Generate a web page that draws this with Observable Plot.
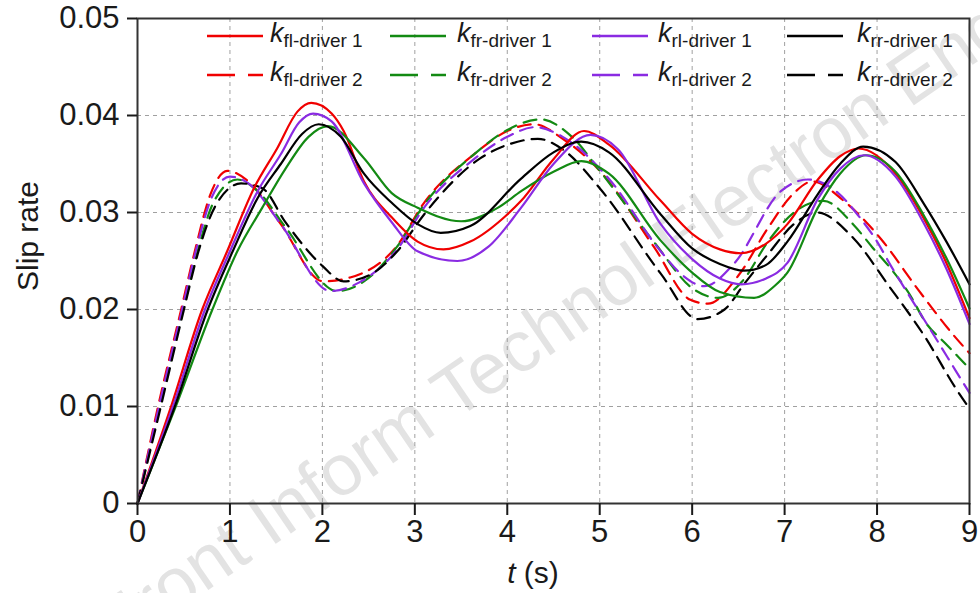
<!DOCTYPE html>
<html>
<head>
<meta charset="utf-8">
<script src="https://cdn.jsdelivr.net/npm/d3@7"></script>
<script src="https://cdn.jsdelivr.net/npm/@observablehq/plot@0.6"></script>
<style>
  html, body { margin: 0; padding: 0; background: #fff; }
  #chart { position: relative; width: 980px; height: 593px; overflow: hidden; }
</style>
</head>
<body>
<div id="chart"></div>
<script>
// ---- Data ----
const xTicks = [0, 1, 2, 3, 4, 5, 6, 7, 8, 9];
const yTicks = [0, 0.01, 0.02, 0.03, 0.04, 0.05];

// k fl - driver 1 (red solid)
const fl1_t = [0, 0.36, 0.70, 0.97, 1.26, 1.51, 1.73, 1.88, 2.1, 2.23, 2.45, 2.75, 3.03, 3.31, 3.6, 4.0, 4.15, 4.5, 4.83, 5.1, 5.66, 6.0, 6.3, 6.53, 6.8, 7.03, 7.36, 7.6, 7.8, 8.2, 8.5, 8.75, 9];
const fl1_v = [0, 0.0099, 0.020, 0.026, 0.0325, 0.0366, 0.0404, 0.0413, 0.0402, 0.0384, 0.0332, 0.0295, 0.0270, 0.0262, 0.0270, 0.0298, 0.0312, 0.0355, 0.0384, 0.0370, 0.0312, 0.0278, 0.0262, 0.0258, 0.0268, 0.0288, 0.0334, 0.0358, 0.0366, 0.0340, 0.0295, 0.0248, 0.0191];
// k fr - driver 1 (green solid)
const fr1_t = [0, 0.41, 0.81, 1.08, 1.35, 1.6, 1.85, 2.06, 2.45, 2.75, 3.03, 3.5, 3.9, 4.15, 4.5, 4.8, 5.1, 5.66, 6.0, 6.3, 6.67, 6.9, 7.03, 7.36, 7.6, 7.88, 8.2, 8.5, 8.75, 9];
const fr1_v = [0, 0.0099, 0.020, 0.026, 0.0305, 0.0345, 0.0378, 0.0389, 0.0356, 0.0320, 0.0305, 0.0291, 0.0305, 0.0322, 0.0342, 0.0353, 0.0340, 0.0271, 0.0238, 0.0218, 0.0212, 0.0225, 0.0238, 0.0305, 0.0340, 0.0359, 0.0342, 0.0298, 0.0253, 0.0201];
// k rl - driver 1 (purple solid)
const rl1_t = [0, 0.38, 0.73, 1.0, 1.3, 1.55, 1.75, 1.9, 2.1, 2.45, 2.75, 3.03, 3.46, 3.8, 4.15, 4.5, 4.9, 5.2, 5.66, 6.0, 6.3, 6.53, 6.8, 7.03, 7.36, 7.6, 7.86, 8.2, 8.5, 8.75, 9];
const rl1_v = [0, 0.0099, 0.020, 0.026, 0.0322, 0.0360, 0.0393, 0.0402, 0.0394, 0.0330, 0.0290, 0.0260, 0.0250, 0.0265, 0.0305, 0.0350, 0.0380, 0.0365, 0.0288, 0.0252, 0.0232, 0.0226, 0.0232, 0.0248, 0.0314, 0.0345, 0.0359, 0.0337, 0.0290, 0.0242, 0.0185];
// k rr - driver 1 (black solid)
const rr1_t = [0, 0.40, 0.76, 1.03, 1.3, 1.55, 1.78, 1.96, 2.2, 2.45, 2.75, 3.03, 3.28, 3.6, 4.15, 4.5, 4.8, 5.1, 5.66, 6.0, 6.3, 6.56, 6.8, 7.03, 7.36, 7.6, 7.85, 8.2, 8.5, 8.75, 9];
const rr1_v = [0, 0.0099, 0.020, 0.026, 0.0315, 0.0350, 0.0381, 0.0391, 0.0378, 0.0340, 0.0310, 0.0288, 0.0279, 0.0286, 0.0335, 0.0362, 0.0373, 0.0362, 0.0298, 0.0263, 0.0247, 0.0240, 0.0246, 0.0270, 0.0319, 0.0350, 0.0368, 0.0352, 0.0310, 0.0270, 0.0226];

// k fl - driver 2 (red dashed)
const fl2_t = [0, 0.22, 0.47, 0.62, 0.79, 0.97, 1.2, 1.55, 2.01, 2.3, 2.81, 3.1, 3.64, 4.0, 4.29, 4.6, 5.0, 5.59, 5.98, 6.17, 6.5, 6.82, 7.1, 7.3, 7.64, 8.04, 8.44, 8.85, 9];
const fl2_v = [0, 0.0099, 0.0199, 0.026, 0.0319, 0.0343, 0.0332, 0.0288, 0.0229, 0.0233, 0.0266, 0.0310, 0.0360, 0.0384, 0.0391, 0.0376, 0.0343, 0.0264, 0.0210, 0.0206, 0.0235, 0.0284, 0.0320, 0.0332, 0.0312, 0.0273, 0.0221, 0.0171, 0.0155];
// k fr - driver 2 (green dashed)
const fr2_t = [0, 0.24, 0.49, 0.65, 0.82, 1.08, 1.3, 1.6, 2.16, 2.45, 2.81, 3.1, 3.64, 4.0, 4.36, 4.7, 5.0, 5.6, 6.0, 6.28, 6.55, 6.82, 7.1, 7.42, 7.74, 7.95, 8.15, 8.35, 8.53, 8.74, 9];
const fr2_v = [0, 0.0099, 0.0199, 0.026, 0.0310, 0.0334, 0.0322, 0.0285, 0.0219, 0.0229, 0.0265, 0.0308, 0.0360, 0.0385, 0.0396, 0.0378, 0.0343, 0.0268, 0.0222, 0.0212, 0.0230, 0.0270, 0.0300, 0.0312, 0.0288, 0.0264, 0.0242, 0.0216, 0.0186, 0.0165, 0.0139];
// k rl - driver 2 (purple dashed)
const rl2_t = [0, 0.23, 0.48, 0.63, 0.80, 1.0, 1.2, 1.55, 2.09, 2.4, 2.81, 3.1, 3.64, 4.0, 4.3, 4.6, 5.08, 5.66, 5.9, 6.13, 6.45, 6.96, 7.25, 7.58, 7.82, 8.0, 8.15, 8.33, 8.5, 8.67, 8.85, 9];
const rl2_v = [0, 0.0099, 0.0199, 0.026, 0.0315, 0.0337, 0.0330, 0.0288, 0.0219, 0.0228, 0.0262, 0.0305, 0.0355, 0.0378, 0.0388, 0.0378, 0.0337, 0.0260, 0.0235, 0.0224, 0.0247, 0.0322, 0.0334, 0.0320, 0.0294, 0.0270, 0.0245, 0.0217, 0.0191, 0.0165, 0.0137, 0.0114];
// k rr - driver 2 (black dashed)
const rr2_t = [0, 0.25, 0.50, 0.66, 0.85, 1.12, 1.35, 1.6, 2.0, 2.23, 2.5, 2.81, 3.1, 3.71, 4.04, 4.33, 4.6, 5.0, 5.66, 6.06, 6.35, 6.56, 6.82, 7.1, 7.35, 7.74, 8.13, 8.51, 8.87, 9];
const rr2_v = [0, 0.0099, 0.0199, 0.026, 0.0308, 0.0330, 0.0325, 0.0290, 0.0245, 0.0229, 0.0235, 0.0260, 0.0298, 0.0356, 0.0371, 0.0376, 0.0365, 0.0325, 0.0237, 0.0190, 0.0200, 0.0226, 0.0257, 0.0288, 0.0300, 0.0274, 0.0224, 0.0173, 0.0116, 0.0098];

const seriesKeys = ["fl", "fr", "rl", "rr"];
const seriesColors = ["#f00000", "#138a13", "#8a2be2", "#000000"];

// ---- Build table ----
const series = [
  {key: "fl", driver: 1, t: fl1_t, v: fl1_v},
  {key: "fr", driver: 1, t: fr1_t, v: fr1_v},
  {key: "rl", driver: 1, t: rl1_t, v: rl1_v},
  {key: "rr", driver: 1, t: rr1_t, v: rr1_v},
  {key: "fl", driver: 2, t: fl2_t, v: fl2_v},
  {key: "fr", driver: 2, t: fr2_t, v: fr2_v},
  {key: "rl", driver: 2, t: rl2_t, v: rl2_v},
  {key: "rr", driver: 2, t: rr2_t, v: rr2_v}
];
const colorOf = k => seriesColors[seriesKeys.indexOf(k)];
const DASH = "13,8";

const lineMarks = [];
// dashed first, solid on top
for (const s of [...series].sort((a, b) => b.driver - a.driver)) {
  const rows = s.t.map((t, i) => ({t, v: s.v[i]}));
  lineMarks.push(Plot.line(rows, {
    x: "t", y: "v",
    stroke: colorOf(s.key),
    strokeWidth: 2.2,
    strokeDasharray: s.driver === 2 ? DASH : null,
    curve: "monotone-x"
  }));
}

const plot = Plot.plot({
  width: 980,
  height: 593,
  marginLeft: 137,
  marginRight: 11,
  marginTop: 18,
  marginBottom: 90,
  style: {fontFamily: "'Liberation Sans', Arial, sans-serif", fontSize: "31px", color: "#1a1a1a", background: "#fff"},
  x: {domain: [0, 9]},
  y: {domain: [0, 0.05]},
  marks: [
    Plot.gridX(xTicks.slice(1, -1), {stroke: "#a0a0a0", strokeOpacity: 1, strokeDasharray: "4,4", strokeWidth: 1}),
    Plot.gridY(yTicks.slice(1, -1), {stroke: "#a0a0a0", strokeOpacity: 1, strokeDasharray: "4,4", strokeWidth: 1}),
    ...lineMarks,
    Plot.frame({stroke: "#333", strokeWidth: 2}),
    Plot.axisX({ticks: xTicks, tickSize: 12, tickPadding: 4, strokeWidth: 2, fontSize: 31, label: null}),
    Plot.axisY({ticks: yTicks, tickSize: 10, tickPadding: 8, strokeWidth: 2, fontSize: 31, label: null,
      tickFormat: d => d === 0 ? "0" : d.toFixed(2)})
  ]
});

document.getElementById("chart").appendChild(plot);

// ---- Extra text: axis titles, legend, watermark ----
const svg = d3.select(plot);

// watermark (behind everything, partly off the page as in the reference)
svg.insert("text", "g")
  .attr("transform", "translate(565,345) rotate(-34.5)")
  .attr("text-anchor", "middle")
  .attr("font-size", 72)
  .attr("fill", "#e3e3e3")
  .text("Front Inform Technol Electron Eng");

// x label
const xl = svg.append("text")
  .attr("x", 533).attr("y", 583)
  .attr("text-anchor", "middle")
  .attr("font-size", 30)
  .attr("fill", "#1a1a1a");
xl.append("tspan").attr("font-style", "italic").text("t");
xl.append("tspan").text(" (s)");

// y label
svg.append("text")
  .attr("transform", "translate(38,236) rotate(-90)")
  .attr("text-anchor", "middle")
  .attr("font-size", 30)
  .attr("fill", "#1a1a1a")
  .text("Slip rate");

// legend
const legLineX = [207, 390, 592, 787];
const legTextX = [270, 457, 658, 857];
const legRowY = [36, 75];
const leg = svg.append("g").attr("text-anchor", "start");
[1, 2].forEach((drv, r) => {
  seriesKeys.forEach((k, c) => {
    leg.append("line")
      .attr("x1", legLineX[c]).attr("x2", legLineX[c] + 56)
      .attr("y1", legRowY[r]).attr("y2", legRowY[r])
      .attr("stroke", colorOf(k))
      .attr("stroke-width", 2.6)
      .attr("stroke-dasharray", drv === 2 ? "28,13" : null);
    const tx = leg.append("text")
      .attr("x", legTextX[c]).attr("y", legRowY[r] + 6)
      .attr("text-anchor", "start")
      .attr("fill", "#1a1a1a");
    tx.append("tspan").attr("font-style", "italic").attr("font-size", 27).text("k");
    tx.append("tspan").attr("font-size", 19).attr("dy", 5).text(`${k}-driver ${drv}`);
  });
});
</script>
</body>
</html>
